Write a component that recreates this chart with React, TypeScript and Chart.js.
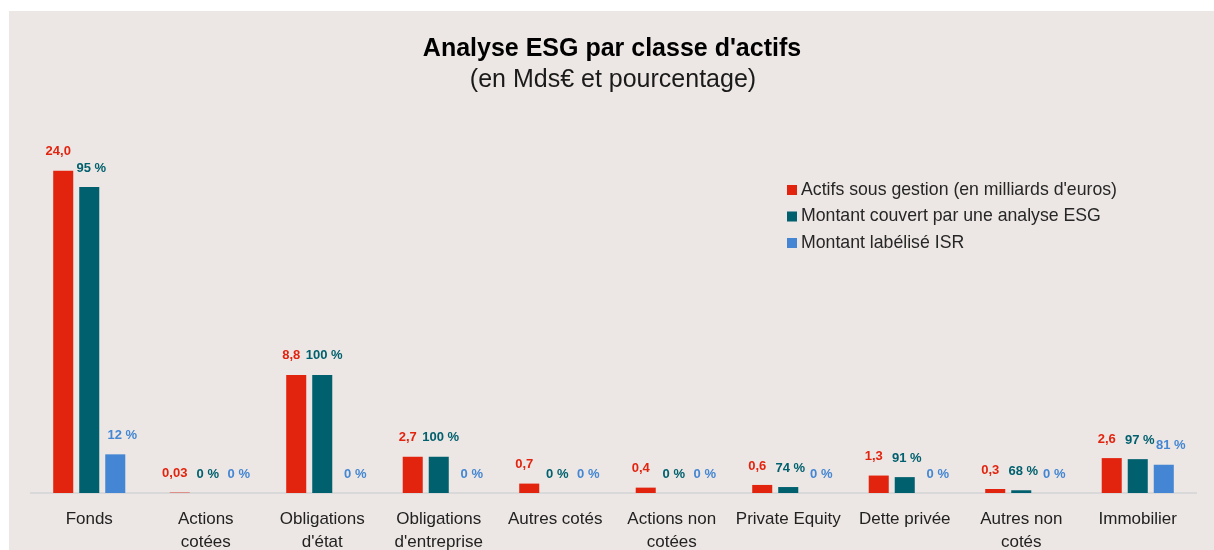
import React, { useEffect, useRef } from 'react';
import { Chart, registerables } from 'chart.js';

Chart.register(...registerables);

const categories: string[][] = [
  ['Fonds'],
  ['Actions', 'cotées'],
  ['Obligations', "d'état"],
  ['Obligations', "d'entreprise"],
  ['Autres cotés'],
  ['Actions non', 'cotées'],
  ['Private Equity'],
  ['Dette privée'],
  ['Autres non', 'cotés'],
  ['Immobilier'],
];
// Actifs sous gestion (Mds€)
const actifs = [24.0, 0.03, 8.8, 2.7, 0.7, 0.4, 0.6, 1.3, 0.3, 2.6];
// Part couverte par une analyse ESG (%)
const esgPct = [95, 0, 100, 100, 0, 0, 74, 91, 68, 97];
// Part labélisée ISR (%)
const isrPct = [12, 0, 0, 0, 0, 0, 0, 0, 0, 81];

const seriesNames = [
  "Actifs sous gestion (en milliards d'euros)",
  'Montant couvert par une analyse ESG',
  'Montant labélisé ISR',
];
const seriesColors = ['#E2240F', '#00606E', '#4486D3'];
const labelShift = [-5, 2, 7];
const titleText = "Analyse ESG par classe d'actifs";
const subtitleText = '(en Mds€ et pourcentage)';

const FONT = "'Liberation Sans', Arial, sans-serif";

const fmtActif = (v: number) =>
  v.toLocaleString('fr-FR', { minimumFractionDigits: 1, maximumFractionDigits: 2 });

export default function App() {
  const ref = useRef<HTMLCanvasElement | null>(null);

  useEffect(() => {
    if (!ref.current) return;
    const labelTexts = [
      actifs.map((v) => fmtActif(v)),
      esgPct.map((p) => `${p} %`),
      isrPct.map((p) => `${p} %`),
    ];

    const decorPlugin = {
      id: 'decor',
      afterDatasetsDraw(chart: any) {
        const ctx = chart.ctx as CanvasRenderingContext2D;
        ctx.save();
        // data labels
        ctx.font = `bold 13px ${FONT}`;
        ctx.textAlign = 'center';
        ctx.textBaseline = 'middle';
        chart.data.datasets.forEach((ds: any, di: number) => {
          const meta = chart.getDatasetMeta(di);
          meta.data.forEach((el: any, i: number) => {
            const top = Math.min(el.y, el.base);
            ctx.fillStyle = seriesColors[di];
            ctx.fillText(labelTexts[di][i], el.x + labelShift[di], top - 19);
          });
        });
        // title
        ctx.fillStyle = '#000';
        ctx.font = `bold 25px ${FONT}`;
        ctx.fillText(titleText, 603, 38);
        ctx.fillStyle = '#1a1a1a';
        ctx.font = `25px ${FONT}`;
        ctx.fillText(subtitleText, 604, 69);
        // legend
        ctx.textAlign = 'left';
        ctx.font = `17.7px ${FONT}`;
        seriesNames.forEach((name, i) => {
          const y = 179 + i * 26.5;
          ctx.fillStyle = seriesColors[i];
          ctx.fillRect(778, y - 5, 10, 10);
          ctx.fillStyle = '#262626';
          ctx.fillText(name, 792, y);
        });
        ctx.restore();
      },
    };

    const chart = new Chart(ref.current, {
      type: 'bar',
      data: {
        labels: categories,
        datasets: [
          {
            label: seriesNames[0],
            data: actifs,
            backgroundColor: seriesColors[0],
          },
          {
            label: seriesNames[1],
            data: actifs.map((v, i) => (v * esgPct[i]) / 100),
            backgroundColor: seriesColors[1],
          },
          {
            label: seriesNames[2],
            data: actifs.map((v, i) => (v * isrPct[i]) / 100),
            backgroundColor: seriesColors[2],
          },
        ],
      },
      options: {
        animation: false,
        responsive: false,
        maintainAspectRatio: false,
        layout: { padding: { left: 22, right: 18, top: 133, bottom: 0 } },
        datasets: {
          bar: { categoryPercentage: 0.67, barPercentage: 0.77 },
        },
        plugins: {
          legend: { display: false },
          title: { display: false },
          tooltip: { enabled: false },
        },
        scales: {
          y: { display: false, min: 0, max: 26 },
          x: {
            grid: { display: false, drawTicks: false },
            border: { display: true, color: '#D9D9D9', width: 2 },
            ticks: {
              color: '#222',
              font: { family: FONT, size: 17, lineHeight: 1.35 },
              padding: 15,
              maxRotation: 0,
              autoSkip: false,
            },
            afterFit: (scale: any) => {
              scale.height = 57;
            },
          },
        },
      },
      plugins: [decorPlugin],
    });
    return () => chart.destroy();
  }, []);

  return (
    <div
      style={{
        position: 'fixed',
        left: 9,
        top: 11,
        width: 1205,
        height: 539,
        background: '#ECE7E4',
      }}
    >
      <canvas ref={ref} width={1205} height={539} style={{ display: 'block' }} />
    </div>
  );
}
